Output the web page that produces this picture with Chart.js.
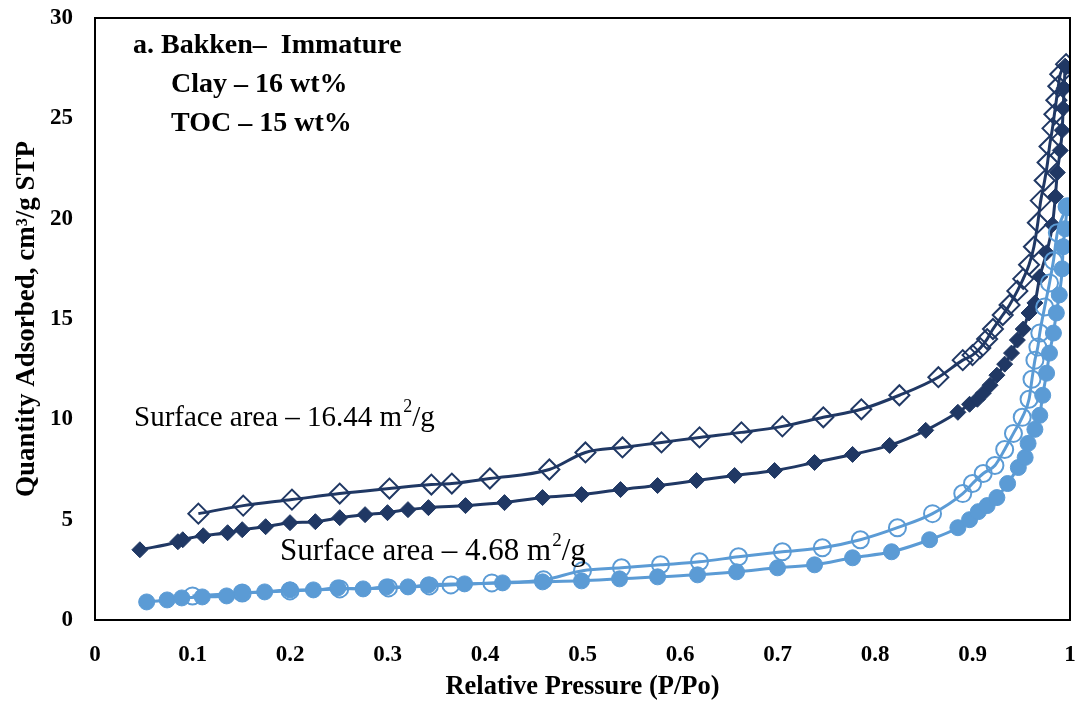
<!DOCTYPE html>
<html>
<head>
<meta charset="utf-8">
<script src="https://cdn.jsdelivr.net/npm/chart.js@4"></script>
<style>
  html, body { margin: 0; padding: 0; background: #fff; }
  #wrap { width: 1083px; height: 709px; }
</style>
</head>
<body>
<div id="wrap"><canvas id="isotherm"></canvas></div>
<script>
// ===================== data =====================
// dark: 16.44 m2/g sample, light: 4.68 m2/g sample
var darkAdsX = [0.046, 0.085, 0.090, 0.111, 0.136, 0.151, 0.175, 0.200, 0.226, 0.251, 0.277, 0.300, 0.321, 0.342, 0.380, 0.420, 0.459, 0.499, 0.539, 0.577, 0.617, 0.656, 0.697, 0.738, 0.777, 0.815, 0.852, 0.885, 0.897, 0.905, 0.911, 0.918, 0.925, 0.933, 0.940, 0.946, 0.952, 0.958, 0.964, 0.969, 0.976, 0.982, 0.985, 0.987, 0.990, 0.992, 0.993, 0.994, 0.995];
var darkAdsY = [3.5, 3.9, 4.0, 4.2, 4.35, 4.5, 4.65, 4.85, 4.9, 5.1, 5.25, 5.35, 5.5, 5.6, 5.7, 5.85, 6.1, 6.25, 6.5, 6.7, 6.95, 7.2, 7.45, 7.85, 8.25, 8.7, 9.45, 10.35, 10.75, 11.0, 11.3, 11.7, 12.2, 12.75, 13.3, 13.95, 14.5, 15.3, 15.8, 17.1, 18.3, 19.7, 21.1, 22.3, 23.4, 24.4, 25.5, 26.5, 27.6];

var darkDesX = [0.106, 0.152, 0.202, 0.251, 0.302, 0.345, 0.366, 0.405, 0.466, 0.503, 0.541, 0.581, 0.620, 0.663, 0.705, 0.747, 0.786, 0.825, 0.865, 0.890, 0.900, 0.908, 0.915, 0.921, 0.931, 0.938, 0.946, 0.952, 0.958, 0.963, 0.967, 0.970, 0.974, 0.977, 0.979, 0.982, 0.984, 0.986, 0.988, 0.990, 0.996];
var darkDesY = [5.3, 5.7, 6.0, 6.3, 6.55, 6.75, 6.8, 7.05, 7.5, 8.35, 8.6, 8.85, 9.1, 9.35, 9.65, 10.1, 10.5, 11.2, 12.1, 12.95, 13.2, 13.55, 14.0, 14.5, 15.2, 15.7, 16.4, 17.0, 17.7, 18.6, 19.8, 20.9, 21.9, 22.8, 23.6, 24.5, 25.2, 25.9, 26.6, 27.2, 27.7];

var lightAdsX = [0.053, 0.074, 0.089, 0.110, 0.135, 0.151, 0.174, 0.200, 0.224, 0.249, 0.275, 0.299, 0.321, 0.342, 0.379, 0.418, 0.459, 0.499, 0.538, 0.577, 0.618, 0.658, 0.700, 0.738, 0.777, 0.817, 0.856, 0.885, 0.897, 0.906, 0.915, 0.925, 0.936, 0.947, 0.954, 0.957, 0.964, 0.969, 0.972, 0.976, 0.979, 0.983, 0.986, 0.989, 0.992, 0.993, 0.995, 0.997];
var lightAdsY = [0.9, 1.0, 1.1, 1.15, 1.2, 1.35, 1.4, 1.5, 1.5, 1.6, 1.55, 1.65, 1.65, 1.75, 1.8, 1.85, 1.9, 1.95, 2.05, 2.15, 2.25, 2.4, 2.6, 2.75, 3.1, 3.4, 4.0, 4.6, 5.0, 5.4, 5.7, 6.1, 6.8, 7.6, 8.1, 8.8, 9.5, 10.2, 11.2, 12.3, 13.3, 14.3, 15.3, 16.2, 17.5, 18.6, 19.5, 20.6];

var lightDesX = [0.100, 0.151, 0.200, 0.251, 0.301, 0.343, 0.365, 0.407, 0.460, 0.500, 0.540, 0.580, 0.620, 0.660, 0.705, 0.746, 0.785, 0.823, 0.859, 0.890, 0.900, 0.911, 0.923, 0.933, 0.942, 0.951, 0.958, 0.961, 0.964, 0.967, 0.969, 0.974, 0.979, 0.983, 0.987, 0.997];
var lightDesY = [1.2, 1.35, 1.45, 1.55, 1.6, 1.7, 1.75, 1.85, 2.0, 2.45, 2.6, 2.75, 2.9, 3.15, 3.4, 3.6, 4.0, 4.6, 5.3, 6.3, 6.8, 7.3, 7.7, 8.5, 9.3, 10.1, 11.0, 12.0, 12.95, 13.6, 14.3, 15.6, 16.8, 17.9, 19.3, 20.6];

var xTicks = [0, 0.1, 0.2, 0.3, 0.4, 0.5, 0.6, 0.7, 0.8, 0.9, 1];
var yTicks = [0, 5, 10, 15, 20, 25, 30];

var darkBlue = "#203864";
var lightBlue = "#5b9bd5";

function toPoints(xs, ys) {
  return xs.map(function (x, i) { return { x: x, y: ys[i] }; });
}

// frame + in-plot notes
var notesPlugin = {
  id: "notes",
  afterDraw: function (chart) {
    var c = chart.ctx;
    var a = chart.chartArea;
    c.save();
    c.strokeStyle = "#000";
    c.lineWidth = 2;
    c.strokeRect(a.left, a.top, a.right - a.left, a.bottom - a.top);

    c.fillStyle = "#000";
    c.textBaseline = "middle";
    c.textAlign = "left";
    c.font = "bold 28px 'Liberation Serif'";
    c.fillText("a. Bakken\u2013  Immature", 133, 46);
    c.fillText("Clay \u2013 16 wt%", 171, 85);
    c.fillText("TOC \u2013 15 wt%", 171, 124);

    // surface area labels with superscript
    function areaLabel(text, x, y, size) {
      c.font = size + "px 'Liberation Serif'";
      c.fillText(text, x, y);
      var w = c.measureText(text).width;
      c.font = Math.round(size * 0.62) + "px 'Liberation Serif'";
      c.fillText("2", x + w + 1, y - size * 0.36);
      var w2 = c.measureText("2").width;
      c.font = size + "px 'Liberation Serif'";
      c.fillText("/g", x + w + w2 + 1, y);
    }
    areaLabel("Surface area \u2013 16.44 m", 134, 418, 29);
    areaLabel("Surface area \u2013 4.68 m", 280, 552, 31);
    c.restore();
  }
};

var ctx = document.getElementById("isotherm").getContext("2d");
var isotherm = new Chart(ctx, {
  type: "scatter",
  data: {
    datasets: [
      {
        label: "light adsorption",
        data: toPoints(lightAdsX, lightAdsY),
        showLine: true,
        borderColor: lightBlue,
        borderWidth: 3,
        pointStyle: "circle",
        pointRadius: 8,
        pointBackgroundColor: lightBlue,
        pointBorderColor: lightBlue,
        pointBorderWidth: 1
      },
      {
        label: "light desorption",
        data: toPoints(lightDesX, lightDesY),
        showLine: true,
        borderColor: lightBlue,
        borderWidth: 3,
        pointStyle: "circle",
        pointRadius: 8.5,
        pointBackgroundColor: "rgba(255,255,255,0)",
        pointBorderColor: lightBlue,
        pointBorderWidth: 2
      },
      {
        label: "dark adsorption",
        data: toPoints(darkAdsX, darkAdsY),
        showLine: true,
        borderColor: darkBlue,
        borderWidth: 3,
        pointStyle: "rectRot",
        pointRadius: 8,
        pointBackgroundColor: darkBlue,
        pointBorderColor: darkBlue,
        pointBorderWidth: 1
      },
      {
        label: "dark desorption",
        data: toPoints(darkDesX, darkDesY),
        showLine: true,
        borderColor: darkBlue,
        borderWidth: 3,
        pointStyle: "rectRot",
        pointRadius: 10,
        pointBackgroundColor: "rgba(255,255,255,0)",
        pointBorderColor: darkBlue,
        pointBorderWidth: 2
      }
    ]
  },
  options: {
    responsive: true,
    maintainAspectRatio: false,
    animation: false,
    layout: { padding: { left: 0, right: 13, top: 18, bottom: 0 } },
    plugins: {
      legend: { display: false },
      tooltip: { enabled: false }
    },
    elements: { line: { cubicInterpolationMode: "monotone" } },
    scales: {
      x: {
        type: "linear",
        min: 0,
        max: 1,
        afterBuildTicks: function (scale) {
          scale.ticks = xTicks.map(function (v) { return { value: v }; });
        },
        afterFit: function (scale) {
          scale.height = 89;
          scale.paddingLeft = 0;
          scale.paddingRight = 0;
        },
        grid: { display: false, drawTicks: false },
        border: { display: false },
        ticks: {
          padding: 21,
          color: "#000",
          font: { family: "'Liberation Serif'", size: 23, weight: "bold" },
          callback: function (v) { return String(v); }
        },
        title: {
          display: true,
          text: "Relative Pressure (P/Po)",
          color: "#000",
          font: { family: "'Liberation Serif'", size: 26.5, weight: "bold" },
          padding: { top: 0, bottom: 6 }
        }
      },
      y: {
        type: "linear",
        min: 0,
        max: 30,
        afterBuildTicks: function (scale) {
          scale.ticks = yTicks.map(function (v) { return { value: v }; });
        },
        afterFit: function (scale) {
          scale.width = 95;
          scale.paddingTop = 0;
          scale.paddingBottom = 0;
        },
        grid: { display: false, drawTicks: false },
        border: { display: false },
        ticks: {
          padding: 22,
          color: "#000",
          font: { family: "'Liberation Serif'", size: 23, weight: "bold" }
        },
        title: {
          display: true,
          text: "Quantity Adsorbed, cm\u00b3/g STP",
          color: "#000",
          font: { family: "'Liberation Serif'", size: 27, weight: "bold" },
          padding: { top: 11, bottom: 4 }
        }
      }
    }
  },
  plugins: [notesPlugin]
});
</script>
</body>
</html>
